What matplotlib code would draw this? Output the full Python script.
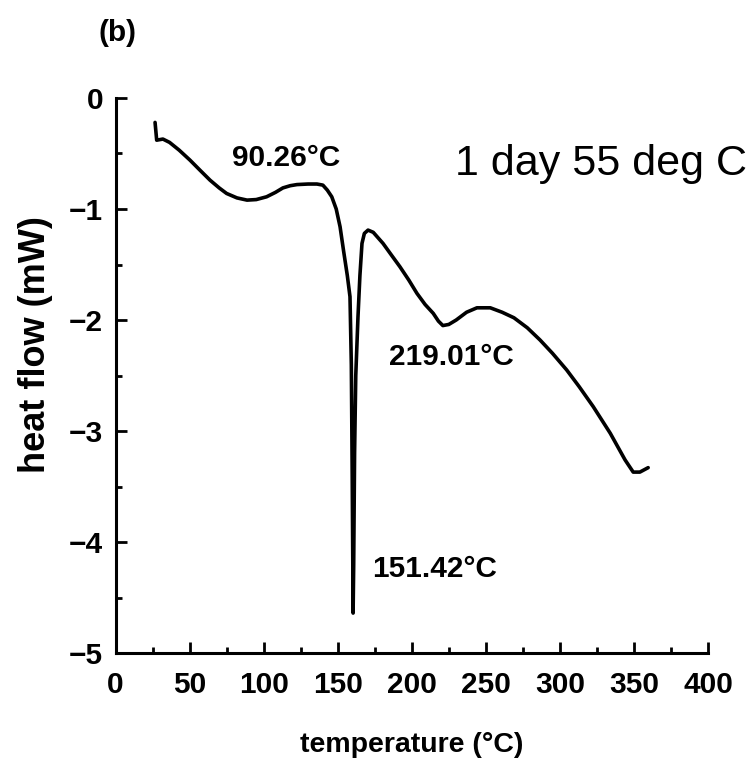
import matplotlib
matplotlib.use("Agg")
import matplotlib.pyplot as plt
from matplotlib.ticker import MultipleLocator


# -------------------------
# Data
# -------------------------
temperature = [26.7, 27.8, 32, 36.5, 43, 50.3, 57, 63.8, 70, 75, 82, 88.8,
               95, 102, 108, 113, 118, 122.5, 130, 136, 140, 143, 146, 149,
               151.6, 154, 156.5, 158.3, 159.2, 159.8, 160.2, 160.4, 160.8,
               161.4, 162.2, 163.7, 165, 166.4, 168, 170.5, 174, 180.6, 186,
               192, 198, 203.5, 209, 214.5, 218, 221, 225, 230, 237, 244,
               253, 261, 269, 278, 286.6, 295, 304.6, 313, 322.5, 334, 344,
               349.5, 354, 359.6]
heat_flow = [-0.22, -0.38, -0.37, -0.40, -0.47, -0.56, -0.65, -0.74, -0.81,
             -0.86, -0.90, -0.92, -0.915, -0.89, -0.85, -0.81, -0.79, -0.78,
             -0.775, -0.775, -0.785, -0.83, -0.89, -1.0, -1.16, -1.38, -1.6,
             -1.79, -2.4, -3.4, -4.2, -4.64, -4.2, -3.2, -2.5, -1.97, -1.6,
             -1.31, -1.22, -1.19, -1.21, -1.31, -1.41, -1.52, -1.64, -1.76,
             -1.86, -1.94, -2.01, -2.05, -2.04, -2.0, -1.93, -1.89, -1.89,
             -1.93, -1.98, -2.07, -2.18, -2.3, -2.45, -2.6, -2.78, -3.02,
             -3.26, -3.37, -3.37, -3.33]

peak_labels = ["90.26°C", "151.42°C", "219.01°C"]
peak_label_pos = [(115, -0.54), (215.5, -4.24), (227, -2.33)]

x_ticks = [0, 50, 100, 150, 200, 250, 300, 350, 400]
y_ticks = [0, -1, -2, -3, -4, -5]

FONT = ["Liberation Sans", "DejaVu Sans"]

# -------------------------
# Plot
# -------------------------
fig = plt.figure(figsize=(7.52, 7.71), dpi=100)
ax = fig.add_axes([0.1536, 0.1530, 0.9415 - 0.1536, 0.8729 - 0.1530])

ax.plot(temperature, heat_flow, color="black", linewidth=2.6,
        solid_joinstyle="round", solid_capstyle="round")

ax.set_xlim(0, 400)
ax.set_ylim(-5, 0)

for side in ["top", "right"]:
    ax.spines[side].set_visible(False)
for side in ["left", "bottom"]:
    ax.spines[side].set_linewidth(2.2)

ax.set_xticks(x_ticks)
ax.set_yticks(y_ticks)
ax.xaxis.set_minor_locator(MultipleLocator(25))
ax.yaxis.set_minor_locator(MultipleLocator(0.5))
ax.tick_params(which="major", direction="in", length=8, width=2)
ax.tick_params(which="minor", direction="in", length=4.5, width=2)
ax.tick_params(axis="x", which="major", pad=13)
ax.tick_params(axis="y", which="major", pad=9)

for lab in ax.get_xticklabels() + ax.get_yticklabels():
    lab.set_fontfamily(FONT)
    lab.set_fontweight("bold")
    lab.set_fontsize(21.5)

ax.set_xlabel("temperature (°C)", fontfamily=FONT, fontweight="bold",
              fontsize=20.5, labelpad=24)
fig.text(0.047, 1 - 345 / 771, "heat flow (mW)", rotation=90,
         ha="center", va="center", fontfamily=FONT, fontweight="bold",
         fontsize=26)

fig.text(118 / 752, 1 - 33 / 771, "(b)", ha="center", va="center",
         fontfamily=FONT, fontweight="bold", fontsize=21.5)

for text, (x, y) in zip(peak_labels, peak_label_pos):
    ax.text(x, y, text, ha="center", va="center", fontfamily=FONT,
            fontweight="bold", fontsize=21.5)

ax.text(229, -0.69, "1 day 55 deg C", ha="left", va="baseline",
        fontfamily=FONT, fontsize=31)

fig.savefig("out.png", dpi=100)
